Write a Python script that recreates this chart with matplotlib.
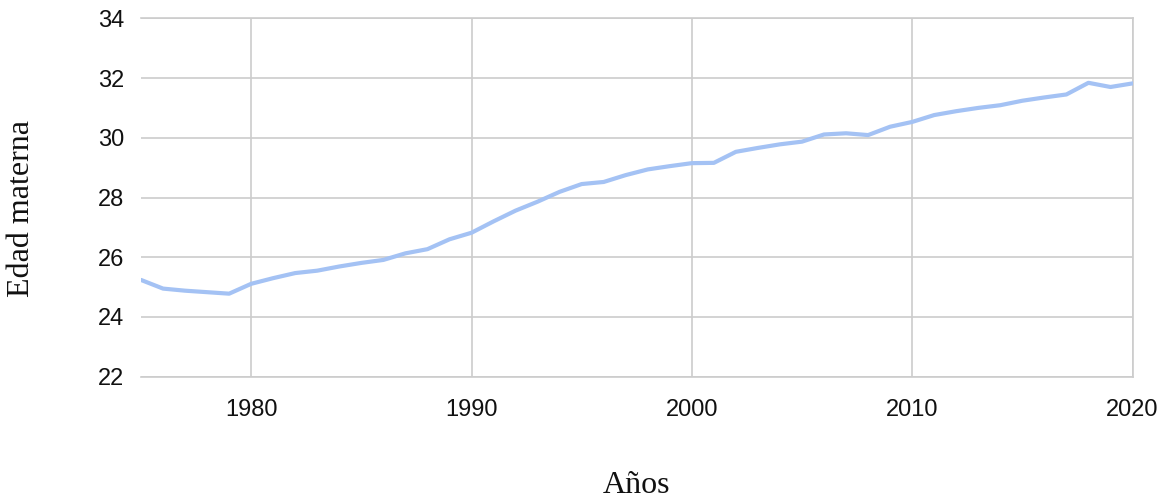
import numpy as np
import matplotlib.pyplot as plt

# años y edad materna media
years = list(range(1975, 2021))
edad = [25.24, 24.95, 24.88, 24.83, 24.78, 25.11, 25.30, 25.47, 25.55, 25.69,
        25.81, 25.91, 26.13, 26.27, 26.60, 26.82, 27.20, 27.56, 27.86, 28.19,
        28.45, 28.52, 28.75, 28.94, 29.05, 29.15, 29.16, 29.53, 29.66, 29.78,
        29.87, 30.11, 30.15, 30.09, 30.37, 30.53, 30.76, 30.89, 31.00, 31.09,
        31.24, 31.35, 31.45, 31.84, 31.70, 31.82]

x_ticks = [1980, 1990, 2000, 2010, 2020]
y_ticks = [22, 24, 26, 28, 30, 32, 34]

grid_color = "#cccccc"
line_color = "#a4c2f4"

fig = plt.figure(figsize=(11.67, 5.0), dpi=100)
ax = fig.add_axes([141 / 1167, 1 - 376.7 / 500, (1132.5 - 141) / 1167, (376.7 - 18.3) / 500])

ax.plot(years, edad, color=line_color, linewidth=3.0, solid_joinstyle="round",
        solid_capstyle="round", zorder=3)

ax.set_xlim(1975, 2020)
ax.set_ylim(22, 34)
ax.set_xticks(x_ticks)
ax.set_yticks(y_ticks)
ax.grid(True, color=grid_color, linewidth=1.2)
ax.set_axisbelow(True)

for side in ["top", "bottom", "right"]:
    ax.spines[side].set_color(grid_color)
    ax.spines[side].set_linewidth(1.2)
ax.spines["left"].set_visible(False)

ax.tick_params(axis="both", length=0, labelsize=17, colors="#111111")
ax.tick_params(axis="x", pad=16)
ax.tick_params(axis="y", pad=12)
for lab in ax.get_xticklabels() + ax.get_yticklabels():
    lab.set_fontfamily("Liberation Sans")

fig.text(22 / 1167, 1 - 209 / 500, "Edad materna", rotation=90, ha="center", va="center",
         fontsize=23, family="Liberation Serif", color="#111111")
fig.text(636.5 / 1167, 1 - 493 / 500, "Años", ha="center", va="baseline",
         fontsize=23, family="Liberation Serif", color="#111111")

fig.savefig("out.png", dpi=100)
